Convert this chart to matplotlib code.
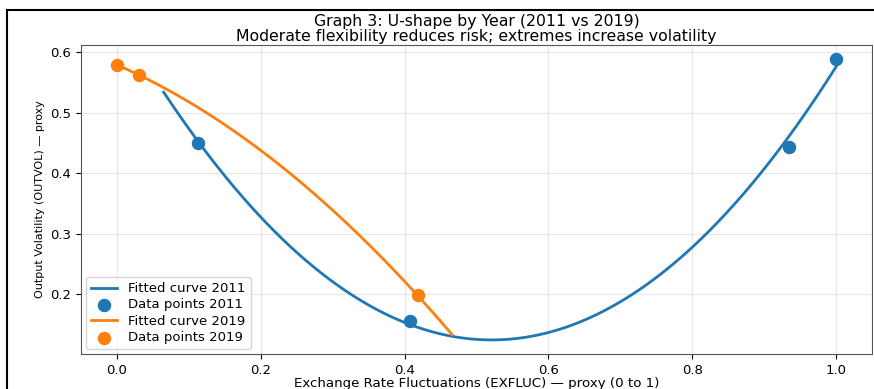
import numpy as np
import matplotlib
matplotlib.use("Agg")
import matplotlib.pyplot as plt
from matplotlib.lines import Line2D

# data points
x_2011 = [0.113, 0.407, 0.934, 1.000]
y_2011 = [0.450, 0.155, 0.444, 0.589]
x_2019 = [0.000, 0.031, 0.418]
y_2019 = [0.579, 0.562, 0.198]

# x-range over which each fitted curve is drawn
curve_range_2011 = (0.065, 1.0)
curve_range_2019 = (0.0, 0.466)

blue = "#1f77b4"
orange = "#ff7f0e"

fig = plt.figure(figsize=(8.74, 3.89), dpi=100)
ax = fig.add_axes([0.0927, 0.09, 0.905, 0.795])

# quadratic fits, as in the original analysis
c11 = np.polyfit(x_2011, y_2011, 2)
c19 = np.polyfit(x_2019, y_2019, 2)
xs11 = np.linspace(*curve_range_2011, 200)
xs19 = np.linspace(*curve_range_2019, 200)

ax.plot(xs11, np.polyval(c11, xs11), color=blue, lw=2, label="Fitted curve 2011")
ax.scatter(x_2011, y_2011, color=blue, s=75, zorder=3, label="Data points 2011")
ax.plot(xs19, np.polyval(c19, xs19), color=orange, lw=2, label="Fitted curve 2019")
ax.scatter(x_2019, y_2019, color=orange, s=75, zorder=3, label="Data points 2019")

ax.set_xticks([0.0, 0.2, 0.4, 0.6, 0.8, 1.0])
ax.set_yticks([0.2, 0.3, 0.4, 0.5, 0.6])
ax.tick_params(labelsize=9.5)
ax.grid(True, alpha=0.3)
for s in ax.spines.values():
    s.set_color("#555555")

ax.set_title("Graph 3: U-shape by Year (2011 vs 2019)\n"
             "Moderate flexibility reduces risk; extremes increase volatility",
             fontsize=11.3, pad=3, linespacing=1.0)
ax.set_xlabel("Exchange Rate Fluctuations (EXFLUC) \u2014 proxy (0 to 1)",
              fontsize=9.6, labelpad=0)
ax.set_ylabel("Output Volatility (OUTVOL) \u2014 proxy", fontsize=8)
ax.legend(loc="lower left", fontsize=9.5, labelspacing=0.25, borderaxespad=0.35)

# screenshot border on the left and top
fig.add_artist(Line2D([0.008, 0.008], [0, 0.975], color="black", lw=1.5))
fig.add_artist(Line2D([0.008, 1.0], [0.975, 0.975], color="black", lw=1.5))

fig.savefig("out.png", dpi=100)
